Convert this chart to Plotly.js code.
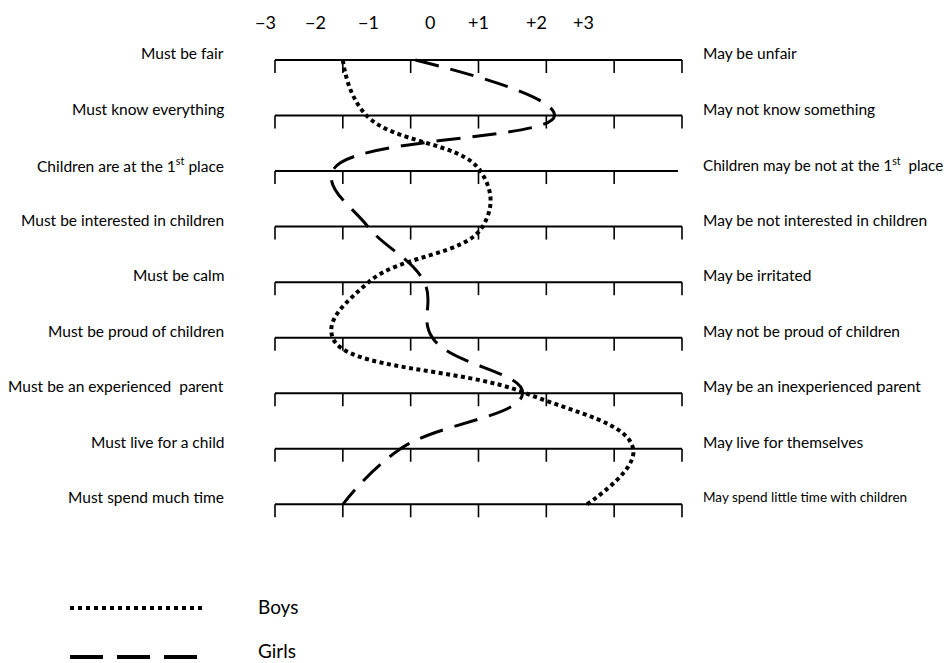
<!DOCTYPE html>
<html>
<head>
<meta charset="utf-8">
<script src="https://cdn.plot.ly/plotly-3.0.1.min.js"></script>
<style>
  html, body { margin: 0; padding: 0; background: #fff; }
  #chart { width: 950px; height: 663px; }
</style>
</head>
<body>
<div id="chart"></div>
<script>
// rows of the scale, top to bottom
var rows = [1, 2, 3, 4, 5, 6, 7, 8, 9];
var leftLabels = [
  "Must be fair",
  "Must know everything",
  "Children are at the 1<sup>st</sup> place",
  "Must be interested in children",
  "Must be calm",
  "Must be proud of children",
  "Must be an experienced  parent",
  "Must live for a child",
  "Must spend much time"
];
var rightLabels = [
  "May be unfair",
  "May not know something",
  "Children may be not at the 1<sup>st</sup>  place",
  "May be not interested in children",
  "May be irritated",
  "May not be proud of children",
  "May be an inexperienced parent",
  "May live for themselves",
  "May spend little time with children"
];
var scaleTicks = [-3, -2, -1, 0, 1, 2, 3];
var topLabels = ["\u22123", "\u22122", "\u22121", "0", "+1", "+2", "+3"];

// mean scores
var boys  = [-2.0, -1.65, 0.03, 0.06, -1.62, -2.15, 0.7, 2.28, 1.6];
var girls = [-0.93, 1.12, -2.15, -1.63, -0.8, -0.68, 0.65, -1.15, -2.0];

var font = "Lato, 'Open Sans', sans-serif";
var traces = [];
var shapes = [];
var annotations = [];

// scale lines
rows.forEach(function (r, i) {
  var xEnd = (i === 2) ? 2.94 : 3;
  traces.push({
    x: [-3, xEnd], y: [r, r], mode: "lines", hoverinfo: "skip",
    line: {color: "#000", width: 2}, showlegend: false
  });
  scaleTicks.forEach(function (t) {
    if (i === 2 && t === 3) return;
    shapes.push({
      type: "line", xref: "x", yref: "y", ysizemode: "pixel", yanchor: r,
      x0: t, x1: t, y0: 0, y1: -13, line: {color: "#000", width: 1.6}
    });
  });
  annotations.push({
    x: -3, y: r, xref: "x", yref: "y", xanchor: "right", yanchor: "middle",
    xshift: -49, yshift: 7, showarrow: false, text: leftLabels[i],
    font: {family: font, size: 15.5, color: "#000"}
  });
  annotations.push({
    x: 3, y: r, xref: "x", yref: "y", xanchor: "left", yanchor: "middle",
    xshift: 19, yshift: 7, showarrow: false, text: rightLabels[i],
    font: {family: font, size: i === 8 ? 13.5 : (i === 2 ? 15.2 : 15.5), color: "#000"}
  });
});

traces.push({
  x: boys, y: rows, name: "Boys", mode: "lines", hoverinfo: "skip",
  line: {color: "#000", width: 4, dash: "4px,3.5px", shape: "spline", smoothing: 1.2},
  showlegend: false
});
traces.push({
  x: girls, y: rows, name: "Girls", mode: "lines", hoverinfo: "skip",
  line: {color: "#000", width: 3, dash: "24px,12px", shape: "spline", smoothing: 1.2},
  showlegend: false
});

// top scale labels (placed as in the original)
var topPos = [265, 315, 368, 430, 479, 536, 583];
topLabels.forEach(function (t, i) {
  annotations.push({
    x: topPos[i] / 950, y: 1 - 22 / 663, xref: "paper", yref: "paper",
    xanchor: "center", yanchor: "middle", showarrow: false, text: t,
    font: {family: font, size: 18, color: "#000"}
  });
});

// hand-made legend
shapes.push({
  type: "line", xref: "paper", yref: "paper",
  x0: 70 / 950, x1: 203 / 950, y0: 1 - 608 / 663, y1: 1 - 608 / 663,
  line: {color: "#000", width: 4, dash: "4px,4px"}
});
shapes.push({
  type: "line", xref: "paper", yref: "paper",
  x0: 70 / 950, x1: 198 / 950, y0: 1 - 657 / 663, y1: 1 - 657 / 663,
  line: {color: "#000", width: 4, dash: "33px,14px"}
});
annotations.push({
  x: 256 / 950, y: 1 - 606 / 663, xref: "paper", yref: "paper",
  xanchor: "left", yanchor: "middle", showarrow: false, text: "Boys",
  font: {family: font, size: 19, color: "#000"}
});
annotations.push({
  x: 256 / 950, y: 1 - 650 / 663, xref: "paper", yref: "paper",
  xanchor: "left", yanchor: "middle", showarrow: false, text: "Girls",
  font: {family: font, size: 19, color: "#000"}
});

// axis ranges chosen so that -3..+3 spans x 275..682 px and rows sit 55.5 px apart
var layout = {
  width: 950, height: 663,
  margin: {l: 0, r: 0, t: 0, b: 0},
  paper_bgcolor: "#fff", plot_bgcolor: "#fff",
  showlegend: false,
  xaxis: {range: [-7.054, 6.951], visible: false, fixedrange: true},
  yaxis: {range: [11.857, -0.080], visible: false, fixedrange: true},
  shapes: shapes,
  annotations: annotations
};

Plotly.newPlot("chart", traces, layout, {staticPlot: true});
</script>
</body>
</html>
